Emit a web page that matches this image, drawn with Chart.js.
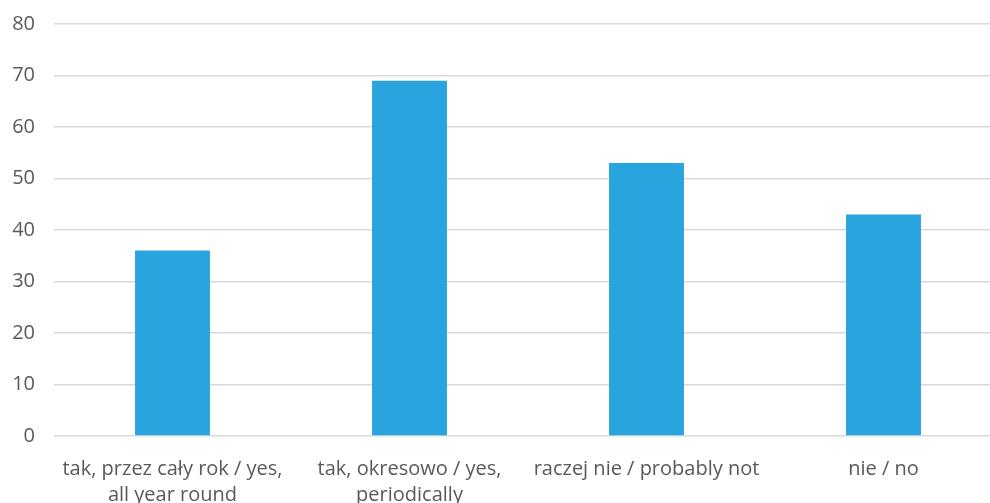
<!DOCTYPE html>
<html>
<head>
<meta charset="utf-8">
<script src="https://cdn.jsdelivr.net/npm/chart.js@4"></script>
<style>
  html, body { margin: 0; padding: 0; background: #fff; overflow: hidden; }
  #wrap { width: 990px; height: 503px; overflow: hidden; }
</style>
</head>
<body>
<div id="wrap"><canvas id="c" width="1012" height="503"></canvas></div>
<script>
// Answer categories (Polish / English)
const categories = [
  ["tak, przez cały rok / yes,", "all year round"],
  ["tak, okresowo / yes,", "periodically"],
  "raczej nie / probably not",
  "nie / no"
];
// Number of responses per category
const responses = [36, 69, 53, 43];
// Value axis range
const yMin = 0;
const yMax = 80;
const yStep = 10;

const textColor = '#595959';
const gridColor = '#d9d9d9';
const fontFamily = '"Open Sans", Lato, sans-serif';

new Chart(document.getElementById('c'), {
  type: 'bar',
  data: {
    labels: categories,
    datasets: [{
      data: responses,
      backgroundColor: '#29a4de',
      borderWidth: 0,
      barPercentage: 0.316,
      categoryPercentage: 1.0
    }]
  },
  options: {
    responsive: false,
    animation: false,
    layout: { padding: { top: 24, right: 10, left: 0, bottom: 0 } },
    plugins: { legend: { display: false }, tooltip: { enabled: false } },
    scales: {
      x: {
        grid: { display: false, drawTicks: false },
        border: { display: false },
        ticks: {
          color: textColor,
          font: { family: fontFamily, size: 20, lineHeight: 1.3 },
          padding: 20,
          maxRotation: 0,
          autoSkip: false
        },
        afterFit: (s) => { s.height = 67; s.paddingLeft = 0; s.paddingRight = 0; }
      },
      y: {
        min: yMin,
        max: yMax,
        grid: { color: gridColor, lineWidth: 1.5, drawTicks: false },
        border: { display: false },
        ticks: {
          stepSize: yStep,
          color: textColor,
          font: { family: fontFamily, size: 20 },
          padding: 19
        },
        afterFit: (s) => { s.width = 54; s.paddingTop = 0; s.paddingBottom = 0; }
      }
    }
  }
});
</script>
</body>
</html>
